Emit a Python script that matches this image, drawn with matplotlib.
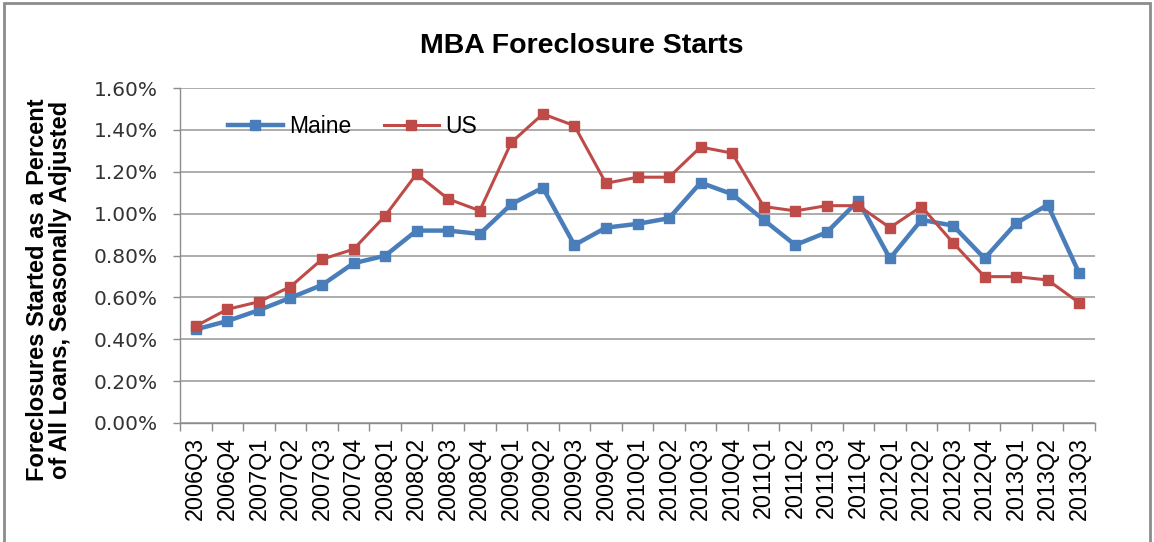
import matplotlib
matplotlib.use("Agg")
import matplotlib.pyplot as plt
from matplotlib.patches import Rectangle
from matplotlib.ticker import FuncFormatter, FixedLocator

plt.rcParams["font.family"] = ["Liberation Sans", "DejaVu Sans"]

quarters = ["2006Q3", "2006Q4", "2007Q1", "2007Q2", "2007Q3", "2007Q4",
            "2008Q1", "2008Q2", "2008Q3", "2008Q4", "2009Q1", "2009Q2",
            "2009Q3", "2009Q4", "2010Q1", "2010Q2", "2010Q3", "2010Q4",
            "2011Q1", "2011Q2", "2011Q3", "2011Q4", "2012Q1", "2012Q2",
            "2012Q3", "2012Q4", "2013Q1", "2013Q2", "2013Q3"]

# percent of all loans
maine = [0.447, 0.487, 0.539, 0.598, 0.659, 0.763, 0.799, 0.919, 0.919, 0.903,
         1.045, 1.124, 0.850, 0.933, 0.951, 0.978, 1.148, 1.093, 0.970, 0.850,
         0.911, 1.062, 0.786, 0.970, 0.943, 0.786, 0.954, 1.042, 0.715]
us = [0.463, 0.543, 0.579, 0.651, 0.782, 0.830, 0.989, 1.190, 1.070, 1.014,
      1.340, 1.476, 1.420, 1.145, 1.174, 1.174, 1.318, 1.289, 1.034, 1.013,
      1.038, 1.038, 0.933, 1.034, 0.861, 0.699, 0.699, 0.683, 0.574]

W, H = 1154, 542
fig = plt.figure(figsize=(W / 100, H / 100), dpi=100)

# chart frame
fig.patches.append(Rectangle((4 / W, -0.01), (W - 8) / W, (H - 4 + 6) / H,
                             transform=fig.transFigure, fill=False,
                             edgecolor="#8c8c8c", linewidth=2))

ax = fig.add_axes([180 / W, 119 / H, 915 / W, 335 / H])
x = list(range(len(quarters)))

ax.plot(x, maine, color="#4a7ebb", linewidth=3.2, marker="s", markersize=6.8,
        label="Maine", zorder=3)
ax.plot(x, us, color="#be4b48", linewidth=2.2, marker="s", markersize=6.8,
        label="US", zorder=3)

ax.set_xlim(-0.5, len(quarters) - 0.5)
ax.set_ylim(0, 1.6)
ax.set_yticks([0, 0.2, 0.4, 0.6, 0.8, 1.0, 1.2, 1.4, 1.6])
ax.yaxis.set_major_formatter(FuncFormatter(lambda v, p: "{:.2f}%".format(v)))
ax.grid(axis="y", color="#a6a6a6", linewidth=1.3)
ax.set_axisbelow(True)

ax.set_xticks(x)
ax.set_xticklabels(quarters, rotation=90, fontsize=16.8)
ax.xaxis.set_minor_locator(FixedLocator([i - 0.5 for i in range(len(quarters) + 1)]))
ax.tick_params(axis="x", which="major", length=0, pad=10)
ax.tick_params(axis="x", which="minor", length=5.5, color="#8c8c8c", width=1)
ax.tick_params(axis="y", length=5, color="#8c8c8c", width=1, pad=11)
for lab in ax.get_yticklabels():
    lab.set_family("DejaVu Sans")
    lab.set_fontsize(14.5)
    lab.set_color("#333333")

for s in ["top", "right"]:
    ax.spines[s].set_visible(False)
for s in ["left", "bottom"]:
    ax.spines[s].set_color("#8c8c8c")
    ax.spines[s].set_linewidth(1)

fig.text(582 / W, 1 - 46 / H, "MBA Foreclosure Starts", ha="center",
         va="center", fontsize=20.5, fontweight="bold")
fig.text(49 / W, 1 - 290 / H,
         "Foreclosures Started as a Percent\nof All Loans, Seasonally Adjusted",
         rotation=90, ha="center", va="center", fontsize=17,
         fontweight="bold", linespacing=1.0)

ax.legend(loc="center left", bbox_to_anchor=(0.052, 0.884), ncol=2,
          frameon=False, fontsize=16.5, borderpad=0, borderaxespad=0,
          handlelength=2.4, handletextpad=0.3, columnspacing=1.4)

fig.savefig("out.png", dpi=100)
